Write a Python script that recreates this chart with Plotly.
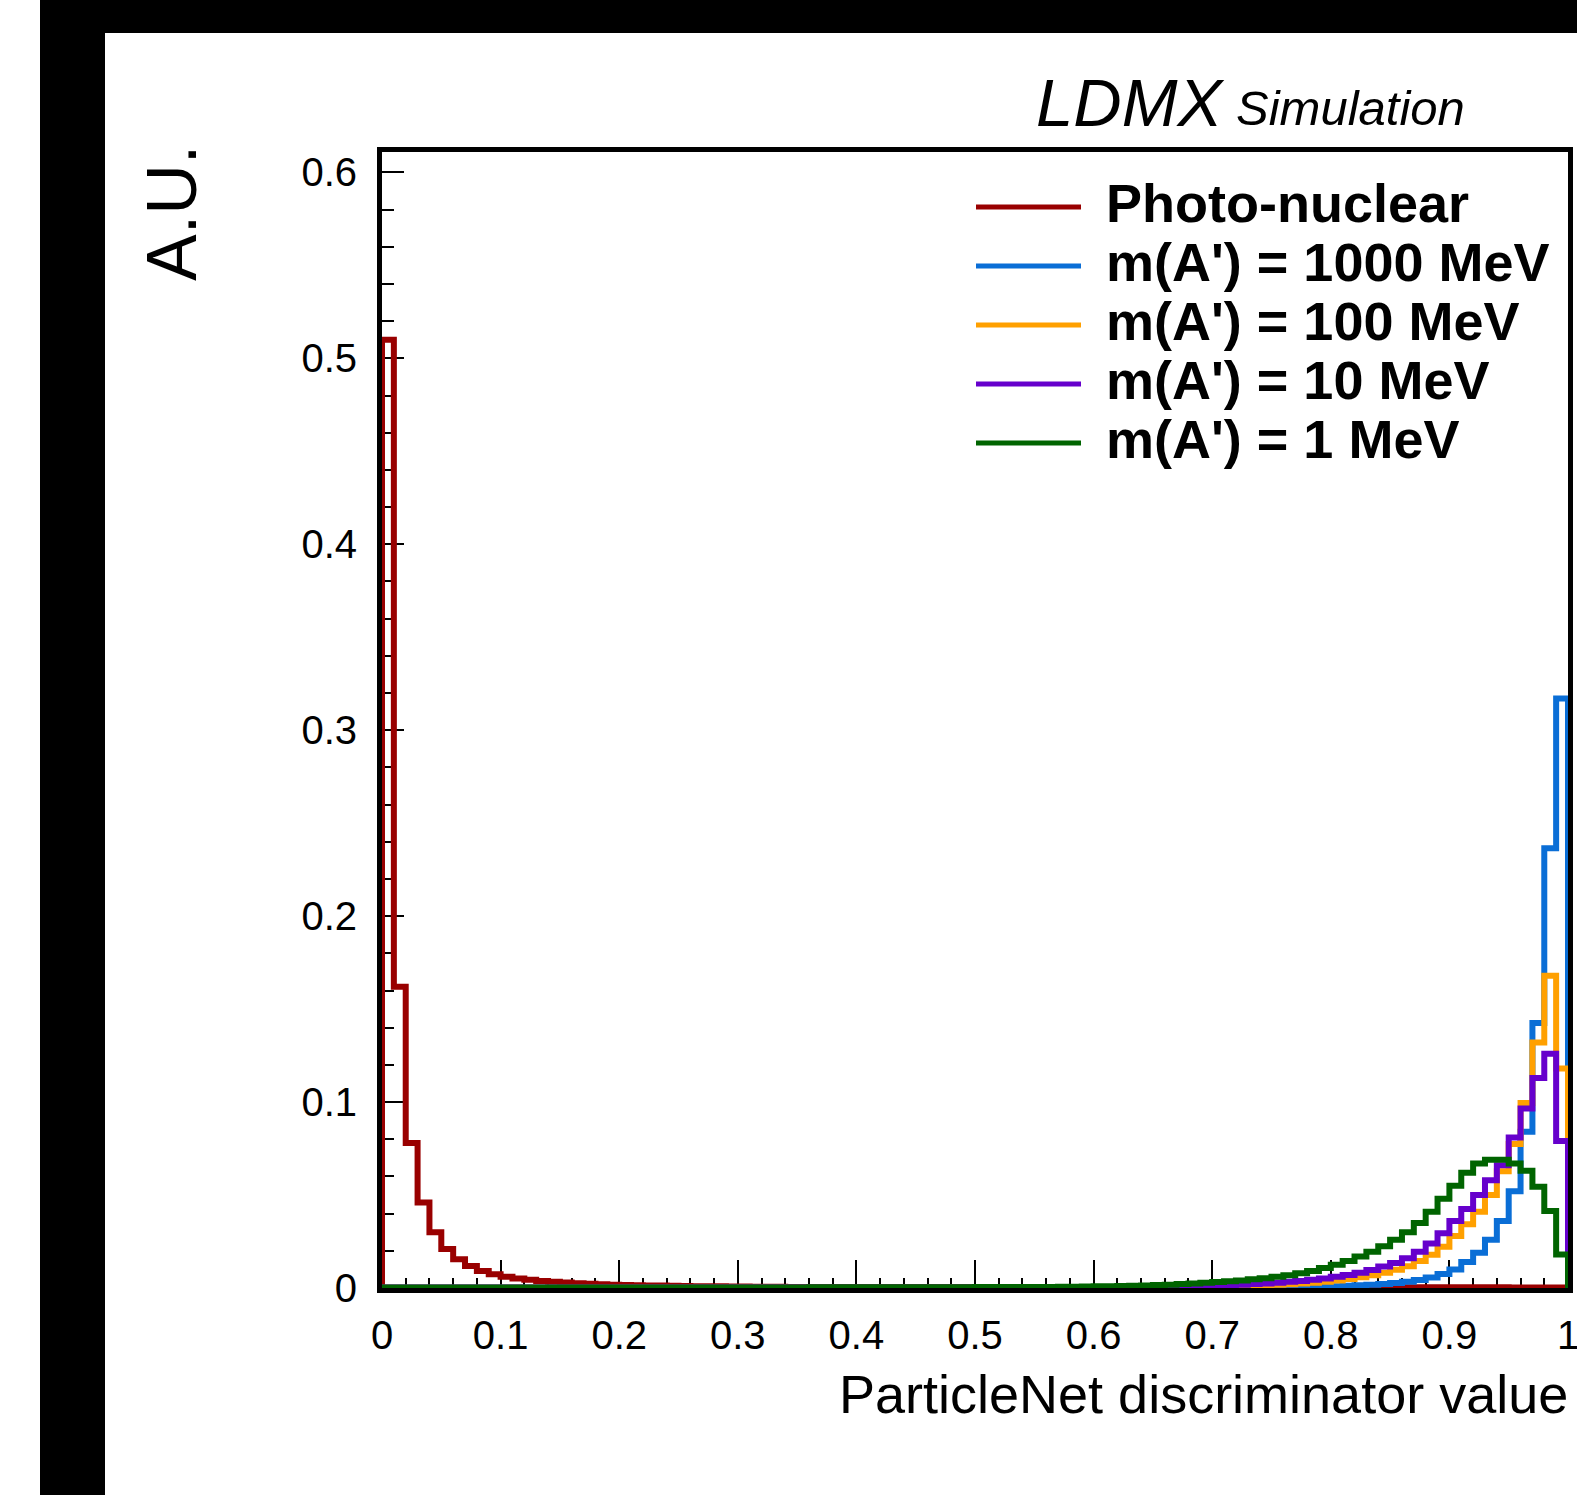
import plotly.graph_objects as go

# ---------------- data ----------------
BIN_LOW, BIN_HIGH, N_BINS = 0.0, 1.0, 100

SERIES_NAMES = ["Photo-nuclear", "m(A') = 1000 MeV", "m(A') = 100 MeV",
                "m(A') = 10 MeV", "m(A') = 1 MeV"]

photo_nuclear = [
    0.510, 0.162, 0.078, 0.046, 0.030, 0.021, 0.0155, 0.0118, 0.0092, 0.0074,
    0.0061, 0.0051, 0.0044, 0.0038, 0.0033, 0.0029, 0.0026, 0.0023, 0.0020, 0.0018,
    0.0016, 0.0015, 0.0014, 0.0013, 0.0012, 0.0011, 0.0010, 0.0009, 0.0009, 0.0008,
    0.0008, 0.0007, 0.0007, 0.0007, 0.0006, 0.0006, 0.0006, 0.0006, 0.0005, 0.0005,
    0.0005, 0.0005, 0.0005, 0.0005, 0.0005, 0.0005, 0.0005, 0.0005, 0.0005, 0.0005,
    0.0005, 0.0005, 0.0005, 0.0004, 0.0004, 0.0004, 0.0004, 0.0004, 0.0004, 0.0004,
    0.0004, 0.0004, 0.0004, 0.0004, 0.0004, 0.0004, 0.0004, 0.0004, 0.0004, 0.0004,
    0.0004, 0.0004, 0.0004, 0.0004, 0.0004, 0.0004, 0.0004, 0.0004, 0.0004, 0.0004,
    0.0004, 0.0004, 0.0004, 0.0004, 0.0004, 0.0004, 0.0004, 0.0004, 0.0004, 0.0004,
    0.0004, 0.0004, 0.0004, 0.0004, 0.0004, 0.0003, 0.0003, 0.0003, 0.0003, 0.0003,
]

m1000 = [
    0.0001, 0.0001, 0.0001, 0.0001, 0.0001, 0.0001, 0.0001, 0.0001, 0.0001, 0.0001,
    0.0001, 0.0001, 0.0001, 0.0001, 0.0001, 0.0001, 0.0001, 0.0001, 0.0001, 0.0001,
    0.0001, 0.0001, 0.0001, 0.0001, 0.0001, 0.0001, 0.0001, 0.0001, 0.0001, 0.0001,
    0.0001, 0.0001, 0.0001, 0.0001, 0.0001, 0.0001, 0.0001, 0.0001, 0.0001, 0.0001,
    0.0001, 0.0001, 0.0001, 0.0001, 0.0001, 0.0001, 0.0001, 0.0001, 0.0001, 0.0001,
    0.0001, 0.0001, 0.0001, 0.0001, 0.0001, 0.0001, 0.0001, 0.0001, 0.0001, 0.0001,
    0.0001, 0.0001, 0.0001, 0.0002, 0.0002, 0.0002, 0.0002, 0.0003, 0.0003, 0.0003,
    0.0003, 0.0004, 0.0004, 0.0005, 0.0005, 0.0006, 0.0007, 0.0007, 0.0008, 0.0009,
    0.0010, 0.0012, 0.0015, 0.0018, 0.0022, 0.0027, 0.0034, 0.0043, 0.0056, 0.0075,
    0.0100, 0.0140, 0.0190, 0.0260, 0.0360, 0.0520, 0.0840, 0.1425, 0.2365, 0.3170,
]

m100 = [
    0.0002, 0.0002, 0.0002, 0.0002, 0.0002, 0.0002, 0.0002, 0.0002, 0.0002, 0.0002,
    0.0002, 0.0002, 0.0002, 0.0002, 0.0002, 0.0002, 0.0002, 0.0002, 0.0002, 0.0002,
    0.0002, 0.0002, 0.0002, 0.0002, 0.0002, 0.0002, 0.0002, 0.0002, 0.0002, 0.0002,
    0.0002, 0.0002, 0.0002, 0.0002, 0.0002, 0.0002, 0.0002, 0.0002, 0.0002, 0.0002,
    0.0002, 0.0002, 0.0002, 0.0002, 0.0002, 0.0002, 0.0002, 0.0002, 0.0002, 0.0002,
    0.0002, 0.0002, 0.0002, 0.0002, 0.0002, 0.0003, 0.0003, 0.0003, 0.0003, 0.0003,
    0.0003, 0.0003, 0.0004, 0.0004, 0.0004, 0.0005, 0.0005, 0.0006, 0.0006, 0.0007,
    0.0008, 0.0009, 0.0010, 0.0012, 0.0014, 0.0017, 0.0020, 0.0024, 0.0028, 0.0034,
    0.0040, 0.0048, 0.0058, 0.0069, 0.0082, 0.0098, 0.0117, 0.0145, 0.0179, 0.0222,
    0.0280, 0.0343, 0.0410, 0.0500, 0.0628, 0.0775, 0.0995, 0.1320, 0.1680, 0.1180,
]

m10 = [
    0.0003, 0.0003, 0.0003, 0.0003, 0.0003, 0.0003, 0.0003, 0.0003, 0.0003, 0.0003,
    0.0003, 0.0003, 0.0003, 0.0003, 0.0003, 0.0003, 0.0003, 0.0003, 0.0003, 0.0003,
    0.0003, 0.0003, 0.0003, 0.0003, 0.0003, 0.0003, 0.0003, 0.0003, 0.0003, 0.0003,
    0.0003, 0.0003, 0.0003, 0.0003, 0.0003, 0.0003, 0.0003, 0.0003, 0.0003, 0.0003,
    0.0003, 0.0003, 0.0003, 0.0003, 0.0003, 0.0003, 0.0003, 0.0003, 0.0003, 0.0003,
    0.0003, 0.0003, 0.0003, 0.0004, 0.0004, 0.0004, 0.0004, 0.0005, 0.0005, 0.0005,
    0.0006, 0.0006, 0.0007, 0.0007, 0.0008, 0.0008, 0.0009, 0.0010, 0.0011, 0.0012,
    0.0014, 0.0016, 0.0018, 0.0021, 0.0024, 0.0028, 0.0033, 0.0038, 0.0044, 0.0051,
    0.0060, 0.0070, 0.0082, 0.0097, 0.0115, 0.0135, 0.0160, 0.0195, 0.0240, 0.0295,
    0.0360, 0.0425, 0.0500, 0.0580, 0.0660, 0.0810, 0.0965, 0.1130, 0.1260, 0.0790,
]

m1 = [
    0.0003, 0.0003, 0.0003, 0.0003, 0.0003, 0.0003, 0.0003, 0.0003, 0.0003, 0.0003,
    0.0003, 0.0003, 0.0003, 0.0003, 0.0003, 0.0003, 0.0003, 0.0003, 0.0003, 0.0003,
    0.0003, 0.0003, 0.0003, 0.0003, 0.0003, 0.0003, 0.0003, 0.0003, 0.0003, 0.0003,
    0.0003, 0.0003, 0.0003, 0.0003, 0.0003, 0.0003, 0.0004, 0.0004, 0.0004, 0.0004,
    0.0004, 0.0004, 0.0004, 0.0004, 0.0004, 0.0004, 0.0004, 0.0004, 0.0004, 0.0004,
    0.0005, 0.0005, 0.0005, 0.0005, 0.0006, 0.0006, 0.0006, 0.0007, 0.0007, 0.0008,
    0.0009, 0.0010, 0.0011, 0.0012, 0.0014, 0.0016, 0.0018, 0.0021, 0.0024, 0.0028,
    0.0032, 0.0036, 0.0041, 0.0047, 0.0053, 0.0060, 0.0069, 0.0080, 0.0092, 0.0107,
    0.0125, 0.0145, 0.0170, 0.0195, 0.0225, 0.0260, 0.0300, 0.0350, 0.0410, 0.0480,
    0.0550, 0.0620, 0.0670, 0.0690, 0.0690, 0.0670, 0.0630, 0.0545, 0.0414, 0.0180,
]

SERIES_VALUES = [photo_nuclear, m1000, m100, m10, m1]
COLORS = ["#990000", "#0a6ed6", "#ffa000", "#6600cc", "#006400"]

X_TITLE = "ParticleNet discriminator value"
Y_TITLE = "A.U."

# ---------------- layout geometry (pixels) ----------------
W, H = 1577, 1495
PL, PR, PT, PB = 382, 1568, 152, 1288   # plot-area edges in pixels
FONT = "Liberation Sans, Arial, Helvetica, sans-serif"


def fx(p):
    return (p - PL) / (PR - PL)


def fy(p):
    return (PB - p) / (PB - PT)


edges = [BIN_LOW + (BIN_HIGH - BIN_LOW) * i / N_BINS for i in range(N_BINS + 1)]

fig = go.Figure()
for name, vals, col in zip(SERIES_NAMES, SERIES_VALUES, COLORS):
    xs = [edges[0]] + edges
    ys = [0.0] + list(vals) + [0.0]
    fig.add_trace(go.Scatter(
        x=xs, y=ys, mode="lines", name=name, showlegend=False,
        line=dict(shape="hv", color=col, width=6), hoverinfo="skip"))

shapes = []
# black frame bands of the original image
shapes.append(dict(type="rect", xref="paper", yref="paper",
                   x0=fx(40), x1=fx(105), y0=fy(H + 5), y1=fy(-5),
                   fillcolor="black", line=dict(width=0), layer="above"))
shapes.append(dict(type="rect", xref="paper", yref="paper",
                   x0=fx(40), x1=fx(W + 5), y0=fy(33), y1=fy(-5),
                   fillcolor="black", line=dict(width=0), layer="above"))

# manual legend
annotations = []
row_y = [207, 266, 325, 384, 443]
for name, col, ry in zip(SERIES_NAMES, COLORS, row_y):
    shapes.append(dict(type="line", xref="paper", yref="paper",
                       x0=fx(976), x1=fx(1081), y0=fy(ry), y1=fy(ry),
                       line=dict(color=col, width=5)))
    annotations.append(dict(xref="paper", yref="paper", x=fx(1104), y=fy(ry - 4),
                            xanchor="left", yanchor="middle", showarrow=False,
                            text="<b>%s</b>" % name,
                            font=dict(family=FONT, size=54, color="black")))

# LDMX Simulation label
annotations.append(dict(xref="paper", yref="paper", x=fx(1034), y=fy(103),
                        xanchor="left", yanchor="middle", showarrow=False,
                        text="<i>LDMX</i>", font=dict(family=FONT, size=67, color="black")))
annotations.append(dict(xref="paper", yref="paper", x=fx(1234), y=fy(108),
                        xanchor="left", yanchor="middle", showarrow=False,
                        text="<i>Simulation</i>", font=dict(family=FONT, size=49, color="black")))

# axis titles
annotations.append(dict(xref="paper", yref="paper", x=fx(1570), y=fy(1394),
                        xanchor="right", yanchor="middle", showarrow=False,
                        text=X_TITLE, font=dict(family=FONT, size=54, color="black")))
annotations.append(dict(xref="paper", yref="paper", x=fx(172), y=fy(213),
                        xanchor="center", yanchor="middle", showarrow=False, textangle=-90,
                        text=Y_TITLE, font=dict(family=FONT, size=70, color="black")))

axis_common = dict(showline=True, linecolor="black", linewidth=5, mirror=True,
                   ticks="inside", tickcolor="black", tickwidth=2,
                   showgrid=False, zeroline=False, layer="below traces",
                   tickfont=dict(family=FONT, size=40, color="black"))

fig.update_layout(
    width=W, height=H,
    margin=dict(l=PL, r=W - PR, t=PT, b=H - PB, pad=0, autoexpand=False),
    paper_bgcolor="white", plot_bgcolor="white",
    shapes=shapes, annotations=annotations,
    xaxis=dict(range=[BIN_LOW, BIN_HIGH], tick0=0, dtick=0.1, ticklen=28,
               minor=dict(dtick=0.02, tick0=0, ticks="inside", ticklen=10,
                          tickwidth=2, tickcolor="black"),
               ticklabelstandoff=8, ticklabeloverflow="allow", automargin=False,
               **axis_common),
    yaxis=dict(range=[0, 0.611], tick0=0, dtick=0.1, ticklen=22,
               minor=dict(dtick=0.02, tick0=0, ticks="inside", ticklen=12,
                          tickwidth=2, tickcolor="black"),
               ticklabelstandoff=12, ticklabeloverflow="allow", automargin=False,
               **axis_common),
)

fig.write_html(
    "out.html",
    config={"displayModeBar": False},
    post_script="document.body.style.margin='0';document.body.style.overflow='hidden';",
)
